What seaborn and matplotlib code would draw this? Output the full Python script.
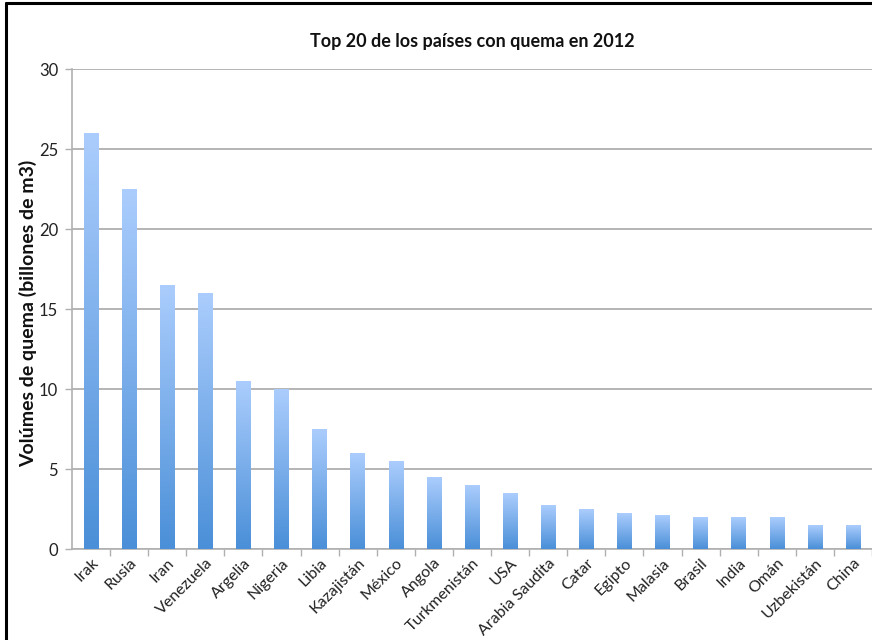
import matplotlib
matplotlib.use("Agg")
import matplotlib.pyplot as plt
import seaborn as sns
import numpy as np
import pandas as pd
from matplotlib.colors import LinearSegmentedColormap
from matplotlib.lines import Line2D

countries = ["Irak", "Rusia", "Iran", "Venezuela", "Argelia", "Nigeria", "Libia",
             "Kazajistán", "México", "Angola", "Turkmenistán", "USA", "Arabia Saudita",
             "Catar", "Egipto", "Malasia", "Brasil", "India", "Omán", "Uzbekistán", "China"]
volumes = [26.0, 22.5, 16.5, 16.0, 10.5, 10.0, 7.5, 6.0, 5.5, 4.5, 4.0, 3.5, 2.75,
           2.5, 2.25, 2.1, 2.0, 2.0, 2.0, 1.5, 1.5]
yticks = [0, 5, 10, 15, 20, 25, 30]

title = "Top 20 de los países con quema en 2012"
ylabel = "Volúmes de quema (billones de m3)"

sns.set_theme(style="white")
plt.rcParams['font.family'] = ['Lato', 'DejaVu Sans']

df = pd.DataFrame({"country": countries, "volume": volumes})

fig = plt.figure(figsize=(8.72, 6.4), dpi=100)
ax = fig.add_axes([72/872, (640-549)/640, 800/872, 480/640])

sns.barplot(data=df, x="country", y="volume", ax=ax, color="#7fb0ea",
            width=0.38, saturation=1, edgecolor="none")

# gradient fill clipped to bars
cmap = LinearSegmentedColormap.from_list("g", ["#4a8fd8", "#abcdfd"])
grad = np.linspace(0, 1, 256).reshape(-1, 1)
for patch in ax.patches:
    x0, y0 = patch.get_x(), patch.get_y()
    w, h = patch.get_width(), patch.get_height()
    patch.set_facecolor("none")
    im = ax.imshow(grad, cmap=cmap, origin="lower", aspect="auto",
                   extent=[x0, x0 + w, 0, y0 + h], zorder=3)
    im.set_clip_path(patch)
ax.set_xlim(-0.5, len(countries) - 0.5)
ax.set_ylim(0, 30)
ax.set_yticks(yticks)
ax.set_yticklabels([str(t) for t in yticks], fontsize=12, color="#222222")

ax.yaxis.grid(True, color="#a8a8a8", linewidth=1.2)
ax.set_axisbelow(True)
for s in ["top", "right"]:
    ax.spines[s].set_visible(False)
for s in ["left", "bottom"]:
    ax.spines[s].set_color("#b0b0b0")
    ax.spines[s].set_linewidth(1.2)

ax.tick_params(axis="y", length=5, color="#b0b0b0", width=1, left=True, pad=5)
ax.set_xticks(np.arange(len(countries)) + 0.5, minor=True)
ax.set_xticks(np.arange(len(countries)))
ax.tick_params(axis="x", which="major", length=0, pad=5)
ax.tick_params(axis="x", which="minor", length=5, color="#b0b0b0", width=1, bottom=True)
ax.set_xticklabels(countries, rotation=45, ha="right", rotation_mode="anchor",
                   fontsize=11.5, color="#222222")

ax.set_xlabel("")
ax.set_ylabel(ylabel, fontsize=14, fontweight="bold", color="#111111")
ax.yaxis.set_label_coords(-35/800, 0.49)
fig.text(0.5 + 0.5*(72/872), 1 - 42/640, title, ha="center", va="center",
         fontsize=13, fontweight="bold", color="#111111")

# outer frame (top and left edges only, as in the cropped reference)
fig.add_artist(Line2D([6/872, 1.0], [1 - 3/640, 1 - 3/640], transform=fig.transFigure,
                      color="black", linewidth=2.2))
fig.add_artist(Line2D([6/872, 6/872], [0.0, 1 - 3/640], transform=fig.transFigure,
                      color="black", linewidth=2.2))

fig.savefig("out.png", dpi=100)
